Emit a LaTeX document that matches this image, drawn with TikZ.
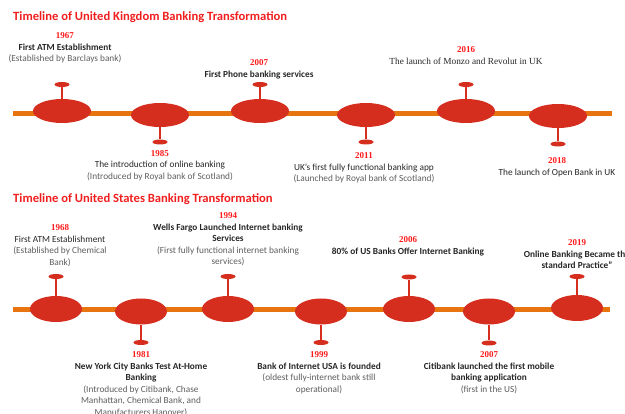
\documentclass[tikz,border=0pt]{standalone}
\usepackage{fontspec}
\setmainfont{Carlito}
\newfontfamily\yrfont{Liberation Serif}
\usetikzlibrary{shapes.geometric}
\definecolor{ered}{HTML}{D52E1F}
\definecolor{lorange}{HTML}{E8740F}
\definecolor{tred}{HTML}{F01E1E}
\definecolor{yred}{HTML}{FF1A1A}
\definecolor{dtext}{HTML}{262626}
\definecolor{gtext}{HTML}{5E5E5E}
\newcommand\yrtxt[1]{{\yrfont\bfseries\fontsize{9}{11.5}\selectfont\color{yred}#1}}
\newcommand\partxt[1]{{\mdseries\color{gtext}#1}}
\begin{document}
\begin{tikzpicture}[x=1pt,y=-1pt,
  ukE/.style={ellipse, fill=ered, inner sep=0pt, minimum width=58pt, minimum height=24pt},
  usE/.style={ellipse, fill=ered, inner sep=0pt, minimum width=52pt, minimum height=26pt},
  pinhead/.style={ellipse, fill=ered, inner sep=0pt, minimum width=15pt, minimum height=5pt},
  stem/.style={draw=ered, line width=1.6pt},
  tline/.style={draw=lorange, line width=5pt},
  ttl/.style={anchor=west, inner sep=0pt, text=tred, font=\fontsize{12.6}{14}\selectfont\bfseries},
  lbl/.style={anchor=north, align=center, inner sep=0pt, text=dtext, font=\fontsize{9.3}{11.5}\selectfont\bfseries},
  lblr/.style={lbl, font=\fontsize{9.3}{11.5}\selectfont}
]
\useasboundingbox (0,0) rectangle (625,414);

% ---------- UK ----------
\node[ttl] (ukT) at (13,17) {Timeline of United Kingdom Banking Transformation};
\coordinate (ukL) at (13,114);
\coordinate (ukR) at (612,114);
\draw[tline] (ukL) -- (ukR);

\node[ukE] (k1) at (62,111) {};
\node[ukE] (k2) at (160,115) {};
\node[ukE] (k3) at (260,111) {};
\node[ukE] (k4) at (366,115) {};
\node[ukE] (k5) at (466,111) {};
\node[ukE] (k6) at (558,116) {};

\node[pinhead] (kp1) at (62,84.5) {};
\node[pinhead] (kp3) at (260,84.5) {};
\node[pinhead] (kp5) at (466,84.5) {};
\node[pinhead] (kp2) at (160,142) {};
\node[pinhead] (kp4) at (366,142) {};
\node[pinhead] (kp6) at (558,144) {};
\draw[stem] (k1.north) -- (kp1.south);
\draw[stem] (k3.north) -- (kp3.south);
\draw[stem] (k5.north) -- (kp5.south);
\draw[stem] (k2.south) -- (kp2.north);
\draw[stem] (k4.south) -- (kp4.north);
\draw[stem] (k6.south) -- (kp6.north);

\node[lbl] (kt1) at (65,32.5) {\yrtxt{1967}\\First ATM Establishment\\\partxt{(Established by Barclays bank)}};
\node[lbl] (kt3) at (259,59.5) {\yrtxt{2007}\\First Phone banking services};
\node[lblr] (kt5) at (466,46.5) {\yrtxt{2016}\\{\yrfont The launch of Monzo and Revolut in UK}};
\node[lblr] (kt2) at (160,150) {\yrtxt{1985}\\The introduction of online banking\\\partxt{(Introduced by Royal bank of Scotland)}};
\node[lblr] (kt4) at (364,152.5) {\yrtxt{2011}\\UK's first fully functional banking app\\\partxt{(Launched by Royal bank of Scotland)}};
\node[lblr] (kt6) at (557,157.5) {\yrtxt{2018}\\The launch of Open Bank in UK};

% ---------- US ----------
\node[ttl] (usT) at (13,199) {Timeline of United States Banking Transformation};
\coordinate (usL) at (13,309.5);
\coordinate (usR) at (610,309.5);
\draw[tline] (usL) -- (usR);

\node[usE] (s1) at (56,309) {};
\node[usE] (s2) at (141,311.5) {};
\node[usE] (s3) at (228,309) {};
\node[usE] (s4) at (321,311.5) {};
\node[usE] (s5) at (409,309) {};
\node[usE] (s6) at (489,311.5) {};
\node[usE] (s7) at (577,308) {};

\node[pinhead] (sp1) at (56,276.5) {};
\node[pinhead] (sp3) at (228,276.5) {};
\node[pinhead] (sp5) at (409,277) {};
\node[pinhead] (sp7) at (577,276.5) {};
\node[pinhead] (sp2) at (141,342.5) {};
\node[pinhead] (sp4) at (321,342.5) {};
\node[pinhead] (sp6) at (489,343) {};
\draw[stem] (s1.north) -- (sp1.south);
\draw[stem] (s3.north) -- (sp3.south);
\draw[stem] (s5.north) -- (sp5.south);
\draw[stem] (s7.north) -- (sp7.south);
\draw[stem] (s2.south) -- (sp2.north);
\draw[stem] (s4.south) -- (sp4.north);
\draw[stem] (s6.south) -- (sp6.north);

\node[lblr] (st1) at (60,224.5) {\yrtxt{1968}\\First ATM Establishment\\\partxt{(Established by Chemical}\\\partxt{Bank)}};
\node[lbl] (st3) at (228,212.5) {\yrtxt{1994}\\Wells Fargo Launched Internet banking\\Services\\\partxt{(First fully functional internet banking}\\\partxt{services)}};
\node[lbl] (st5) at (408,236.5) {\yrtxt{2006}\\80\% of US Banks Offer Internet Banking};
\node[lbl] (st7) at (577,239.5) {\yrtxt{2019}\\Online Banking Became the\\standard Practice”};
\node[lbl] (st2) at (141,351.5) {\yrtxt{1981}\\New York City Banks Test At-Home\\Banking\\\partxt{(Introduced by Citibank, Chase}\\\partxt{Manhattan, Chemical Bank, and}\\\partxt{Manufacturers Hanover)}};
\node[lbl] (st4) at (319,351.5) {\yrtxt{1999}\\Bank of Internet USA is founded\\\partxt{(oldest fully-internet bank still}\\\partxt{operational)}};
\node[lbl] (st6) at (489,351.5) {\yrtxt{2007}\\Citibank launched the first mobile\\banking application\\\partxt{(first in the US)}};
\end{tikzpicture}
\end{document}
